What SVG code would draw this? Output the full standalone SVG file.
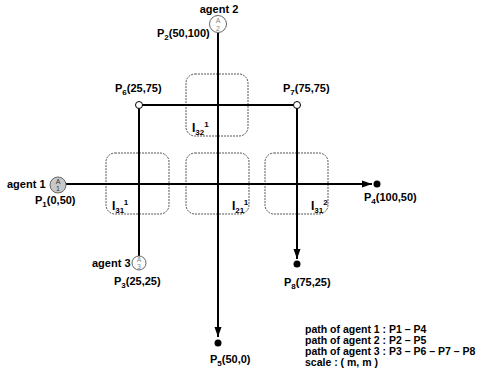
<svg xmlns="http://www.w3.org/2000/svg" width="484" height="380" viewBox="0 0 484 380">
<defs>
<style>
text{font-family:"Liberation Sans",Arial,sans-serif;font-size:11px;font-weight:bold;fill:#000}
.sub{font-size:8px}
.box{fill:none;stroke:#555;stroke-width:1;stroke-dasharray:2 1}
.path{fill:none;stroke:#000;stroke-width:2}
.ag{stroke:#666;stroke-width:1}
.agt{font-size:7px;font-weight:normal;fill:#888;text-anchor:middle}
.wp{fill:#fff;stroke:#000;stroke-width:1}
.end{fill:#000}
.lbl{font-size:12px}
.leg{font-size:10.5px}
</style>
<marker id="arr" markerWidth="10" markerHeight="8" refX="10" refY="4" orient="auto" markerUnits="userSpaceOnUse">
<path d="M0,0.5 L10,4 L0,7.5 Z" fill="#000"/>
</marker>
</defs>
<rect width="484" height="380" fill="#fff"/>
<g id="intersections">
<g id="I32_1"><rect class="box" x="186" y="74" width="62" height="62" rx="9"/><text x="192" y="132"><tspan class="lbl">I</tspan><tspan class="sub" dy="3">32</tspan><tspan class="sub" dy="-8">1</tspan></text></g>
<g id="I31_1"><rect class="box" x="106" y="153" width="63" height="61" rx="9"/><text x="112" y="210"><tspan class="lbl">I</tspan><tspan class="sub" dy="3">31</tspan><tspan class="sub" dy="-8">1</tspan></text></g>
<g id="I21_1"><rect class="box" x="186" y="153" width="63" height="61" rx="9"/><text x="232" y="210"><tspan class="lbl">I</tspan><tspan class="sub" dy="3">21</tspan><tspan class="sub" dy="-8">1</tspan></text></g>
<g id="I31_2"><rect class="box" x="265" y="153" width="63" height="61" rx="9"/><text x="311" y="210"><tspan class="lbl">I</tspan><tspan class="sub" dy="3">31</tspan><tspan class="sub" dy="-8">2</tspan></text></g>
</g>
<g id="connectors">
<path class="path" d="M66,184 H372" marker-end="url(#arr)"/>
<path class="path" d="M218,33 V337" marker-end="url(#arr)"/>
<path class="path" d="M139,256 V105 H297 V259" marker-end="url(#arr)"/>
</g>
<g id="agent1"><circle class="ag" cx="58" cy="185" r="8" fill="#c8c8c8"/><text class="agt" x="58" y="184" style="fill:#333">A</text><text class="agt" x="58" y="191" style="fill:#333">1</text><text x="7" y="188">agent 1</text></g>
<g id="P1"><text x="35" y="204">P<tspan class="sub" dy="3">1</tspan><tspan dy="-3">(0,50)</tspan></text></g>
<g id="agent2"><circle class="ag" cx="218" cy="24" r="8.5" fill="#fff"/><text class="agt" x="218" y="23">A</text><text class="agt" x="218" y="31">2</text><text x="219" y="13" text-anchor="middle">agent 2</text></g>
<g id="P2"><text x="157" y="37">P<tspan class="sub" dy="3">2</tspan><tspan dy="-3">(50,100)</tspan></text></g>
<g id="agent3"><circle class="ag" cx="139" cy="263" r="7" fill="#fff"/><text class="agt" x="139" y="262">A</text><text class="agt" x="139" y="269">3</text><text x="92" y="267">agent 3</text></g>
<g id="P3"><text x="114" y="285">P<tspan class="sub" dy="3">3</tspan><tspan dy="-3">(25,25)</tspan></text></g>
<g id="P6"><circle class="wp" cx="139" cy="105" r="3.5"/><text x="115" y="92">P<tspan class="sub" dy="3">6</tspan><tspan dy="-3">(25,75)</tspan></text></g>
<g id="P7"><circle class="wp" cx="297" cy="105" r="3.5"/><text x="283" y="92">P<tspan class="sub" dy="3">7</tspan><tspan dy="-3">(75,75)</tspan></text></g>
<g id="P4"><circle class="end" cx="377" cy="184" r="3.5"/><text x="364" y="201">P<tspan class="sub" dy="3">4</tspan><tspan dy="-3">(100,50)</tspan></text></g>
<g id="P5"><circle class="end" cx="218" cy="343" r="3.5"/><text x="210" y="363">P<tspan class="sub" dy="3">5</tspan><tspan dy="-3">(50,0)</tspan></text></g>
<g id="P8"><circle class="end" cx="297" cy="264" r="3.5"/><text x="284" y="286">P<tspan class="sub" dy="3">8</tspan><tspan dy="-3">(75,25)</tspan></text></g>
<g id="legend">
<text class="leg" x="305" y="333">path of agent 1 : P1 – P4</text>
<text class="leg" x="305" y="344">path of agent 2 : P2 – P5</text>
<text class="leg" x="305" y="355">path of agent 3 : P3 – P6 – P7 – P8</text>
<text class="leg" x="305" y="366">scale : ( m, m )</text>
</g>
</svg>
